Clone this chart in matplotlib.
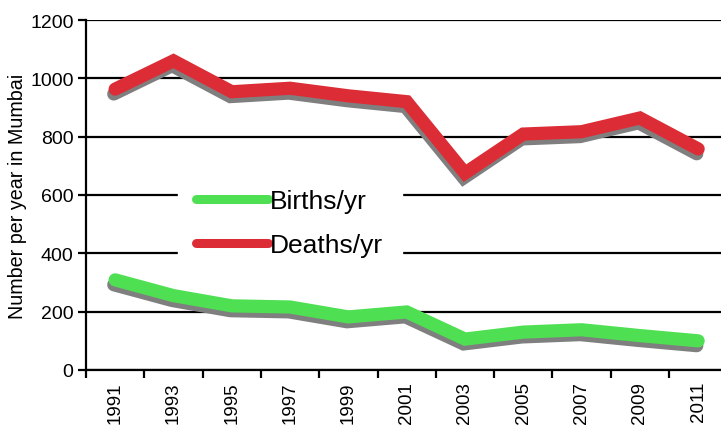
import matplotlib
matplotlib.use('Agg')
import matplotlib.pyplot as plt
import matplotlib.patheffects as pe
from matplotlib.lines import Line2D
import numpy as np

plt.rcParams['font.family'] = ['Liberation Sans', 'DejaVu Sans']

years = ['1991', '1993', '1995', '1997', '1999', '2001', '2003', '2005', '2007', '2009', '2011']
deaths = [963, 1060, 954, 966, 940, 920, 675, 809, 817, 864, 758]
births = [309, 255, 220, 216, 182, 199, 106, 130, 138, 118, 100]

fig = plt.figure(figsize=(7.21, 4.27), dpi=100)
ax = fig.add_axes([86 / 721, 1 - 371 / 427, (727.3 - 86) / 721, 350 / 427])

x = np.arange(len(years))
shadow = [pe.SimpleLineShadow(offset=(-1, -3.5), shadow_color='#7f7f7f', alpha=1, rho=1), pe.Normal()]

ax.plot(x, births, color='#4ee052', lw=9.5, solid_capstyle='round', solid_joinstyle='miter',
        zorder=3, path_effects=shadow)
ax.plot(x, deaths, color='#dc2d36', lw=9.5, solid_capstyle='round', solid_joinstyle='miter',
        zorder=3, path_effects=shadow)

ax.set_xlim(-0.5, 10.5)
ax.set_ylim(0, 1200)
ax.set_yticks(range(0, 1201, 200))
ax.yaxis.grid(True, color='black', lw=1.6, zorder=1)
ax.set_axisbelow(True)

ax.set_xticks(x)
ax.set_xticklabels(years, rotation=90, fontsize=13.5)
ax.set_xticks(np.arange(-0.5, 10.6, 1), minor=True)
ax.tick_params(axis='x', which='major', length=0, pad=8)
ax.tick_params(axis='x', which='minor', length=6, width=1.6, color='black', direction='out')
ax.tick_params(axis='y', length=6, width=1.6, pad=3, labelsize=14)

for s in ['top', 'right']:
    ax.spines[s].set_visible(False)
for s in ['left', 'bottom']:
    ax.spines[s].set_linewidth(1.6)

ax.set_ylabel('Number per year in Mumbai', fontsize=14.2, labelpad=2)

# legend handles drawn without shadow
handles = [Line2D([], [], color='#4ee052', lw=6.5, solid_capstyle='round'),
           Line2D([], [], color='#dc2d36', lw=6.5, solid_capstyle='round')]
leg = fig.legend(handles, ['Births/yr', 'Deaths/yr'], loc='upper left',
                 bbox_to_anchor=(178 / 721, 1 - 172 / 427), borderaxespad=0,
                 fontsize=19, handlelength=2.7, handletextpad=0.1, labelspacing=0.75,
                 frameon=True, fancybox=False, edgecolor='white', facecolor='white',
                 framealpha=1, borderpad=0.7)

fig.savefig('out.png', dpi=100)
